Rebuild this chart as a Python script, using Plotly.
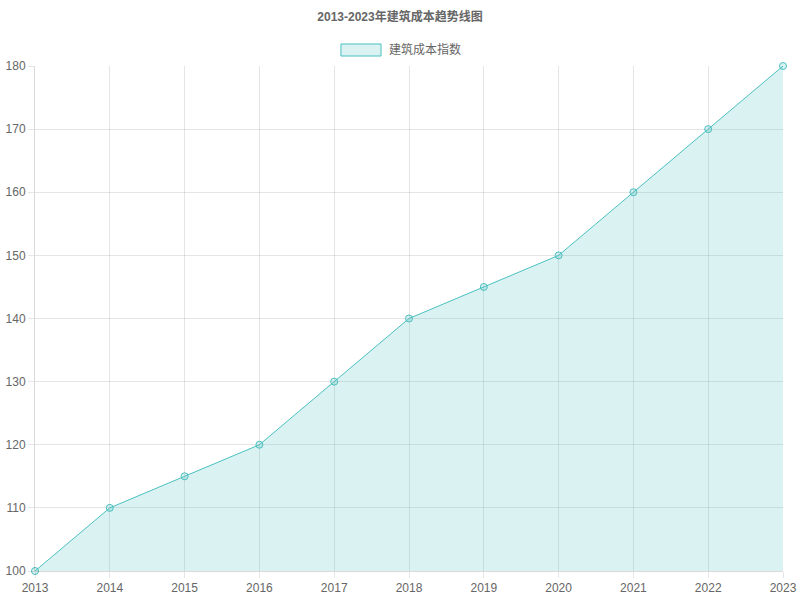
import plotly.graph_objects as go

years = [2013, 2014, 2015, 2016, 2017, 2018, 2019, 2020, 2021, 2022, 2023]
cost_index = [100, 110, 115, 120, 130, 140, 145, 150, 160, 170, 180]

LINE = "rgb(75,192,192)"
FILL = "rgba(75,192,192,0.2)"
FONT = "Liberation Sans, Noto Sans CJK SC, sans-serif"

fig = go.Figure()
fig.add_trace(go.Scatter(
    x=years, y=cost_index, name="建筑成本指数",
    mode="lines+markers", fill="tozeroy", fillcolor=FILL,
    line=dict(color=LINE, width=1),
    marker=dict(size=7, color=FILL, line=dict(color=LINE, width=1)),
    cliponaxis=False, showlegend=False,
))

# legend drawn like the original box + label
fig.add_shape(type="rect", xref="paper", yref="paper",
              x0=0.409, x1=0.4626, y0=1.0198, y1=1.0436,
              fillcolor=FILL, line=dict(color=LINE, width=1))
fig.add_annotation(text="建筑成本指数", xref="paper", yref="paper",
                   x=0.4706, y=1.0317, xanchor="left", yanchor="middle",
                   showarrow=False, font=dict(size=12, color="#666", family=FONT))

fig.update_layout(
    width=800, height=600,
    paper_bgcolor="white", plot_bgcolor="white",
    margin=dict(l=35, r=17, t=66, b=29, autoexpand=False),
    font=dict(family=FONT, size=12, color="#666"),
    title=dict(text="<b>2013-2023年建筑成本趋势线图</b>", x=0.5, xanchor="center",
               y=0.972, yanchor="middle", automargin=False,
               font=dict(size=12, color="#666", family=FONT)),
)
fig.update_xaxes(range=[2013, 2023], tickvals=years, showgrid=True, automargin=False,
                 gridcolor="rgba(0,0,0,0.1)", zeroline=False,
                 showline=True, linecolor="rgba(0,0,0,0.15)",
                 ticks="outside", ticklen=6, tickcolor="rgba(0,0,0,0.1)")
fig.update_yaxes(range=[100, 180], dtick=10, showgrid=True, automargin=False,
                 gridcolor="rgba(0,0,0,0.1)", zeroline=False,
                 showline=True, linecolor="rgba(0,0,0,0.15)",
                 ticks="outside", ticklen=6, tickcolor="rgba(0,0,0,0.1)")

fig.write_html("out.html", config={"displayModeBar": False},
               post_script="document.body.style.margin='0';")
